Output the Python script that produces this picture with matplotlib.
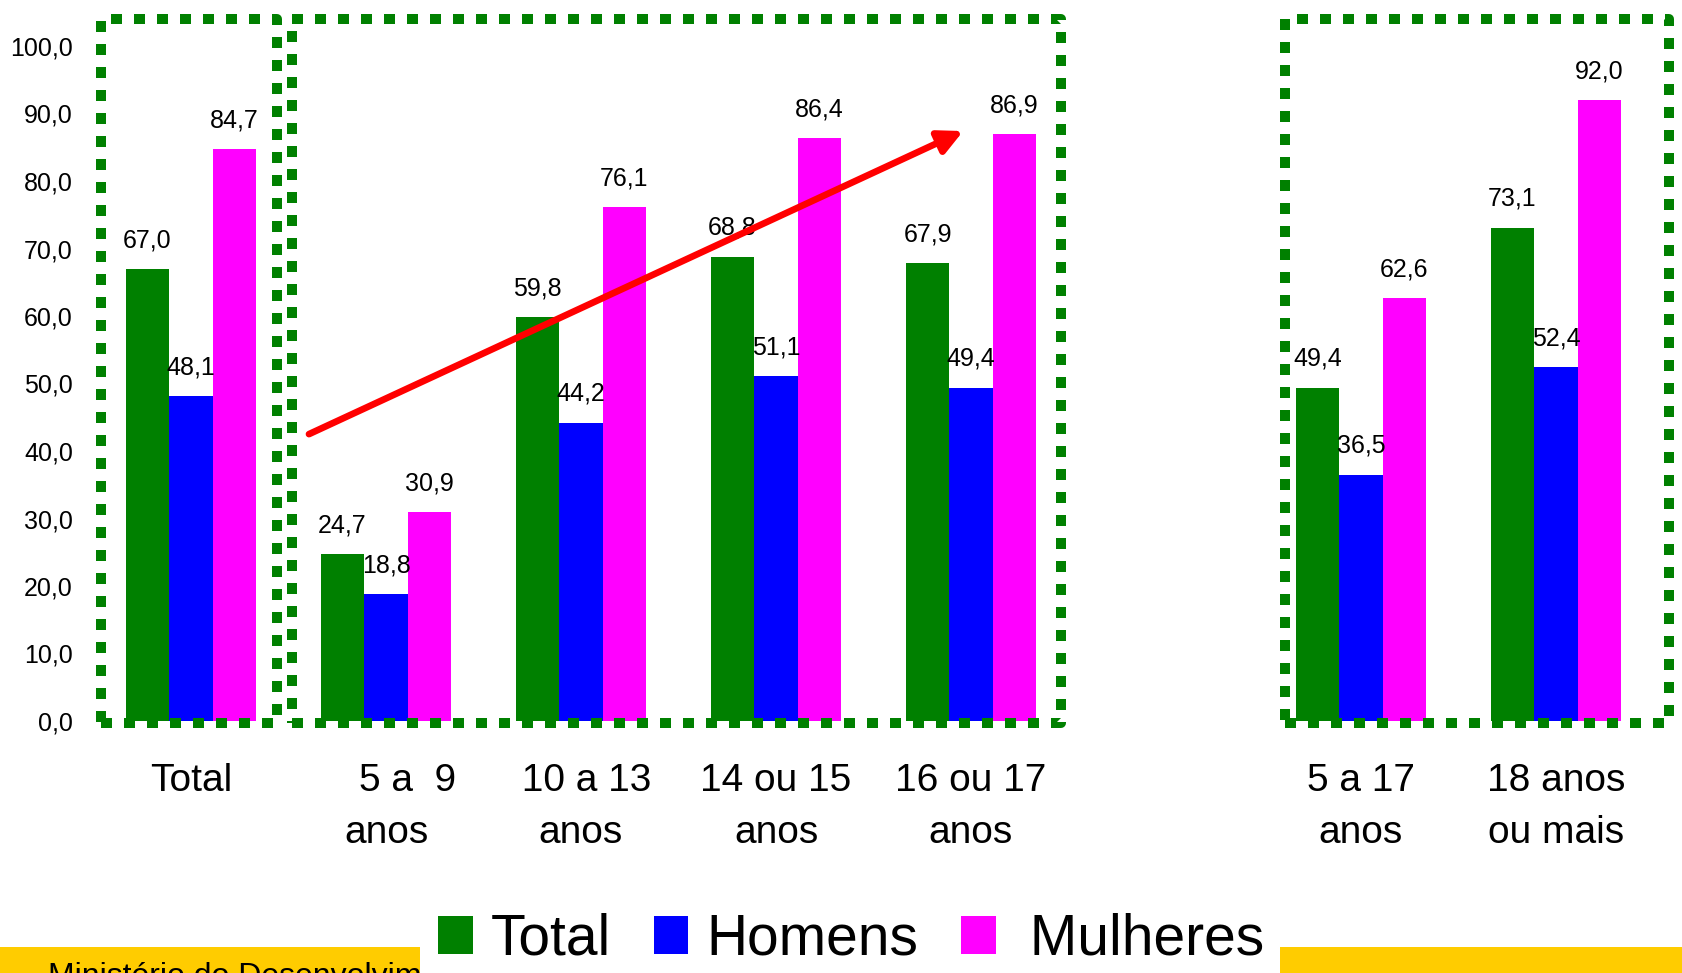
import numpy as np
import matplotlib
matplotlib.use("Agg")
import matplotlib.pyplot as plt
from matplotlib.patches import Rectangle

plt.rcParams['font.family'] = ['Liberation Sans', 'DejaVu Sans']

# ---------------- data ----------------
categories = ["Total", "    5 a  9\nanos", " 10 a 13\nanos", "14 ou 15\nanos",
              "16 ou 17\nanos", "5 a 17\nanos", "18 anos\nou mais"]
positions = [0, 1, 2, 3, 4, 6, 7]
series_names = ["Total", "Homens", " Mulheres"]
total = [67.0, 24.7, 59.8, 68.8, 67.9, 49.4, 73.1]
homens = [48.1, 18.8, 44.2, 51.1, 49.4, 36.5, 52.4]
mulheres = [84.7, 30.9, 76.1, 86.4, 86.9, 62.6, 92.0]
yticks = [0, 10, 20, 30, 40, 50, 60, 70, 80, 90, 100]
colors = ["#008000", "#0000FF", "#FF00FF"]

W, H = 1682, 973
fig = plt.figure(figsize=(W / 100, H / 100), dpi=100)
ax = fig.add_axes([93.5 / W, (H - 721) / H, 1560 / W, (721 - 46) / H])

x = np.array(positions, dtype=float)
bw = 0.223
fmt = lambda v: f"{v:.1f}".replace('.', ',')
handles = []
for i, (vals, col, name) in enumerate(zip([total, homens, mulheres], colors, series_names)):
    bars = ax.bar(x + (i - 1) * bw, vals, bw, color=col, label=name, zorder=2)
    ax.bar_label(bars, labels=[fmt(v) for v in vals], padding=12, fontsize=18)
    handles.append(bars)

ax.set_xlim(-0.5, 7.5)
ax.set_ylim(0, 100)
for s in ax.spines.values():
    s.set_visible(False)
ax.set_yticks(yticks)
ax.set_yticklabels([fmt(v) for v in yticks])
ax.tick_params(axis='y', length=0, pad=14.8, labelsize=18)
ax.set_xticks(positions)
ax.set_xticklabels(categories)
ax.tick_params(axis='x', length=0, pad=30, labelsize=28)
for lbl in ax.get_xticklabels():
    lbl.set_linespacing(1.6)

# dotted group frames
def frame(x0, x1, y0=-0.3, y1=104.0):
    ax.plot([x0, x1, x1, x0, x0], [y0, y0, y1, y1, y0], color="#008000", lw=7.2,
            ls=(0, (1.1, 1.2)), dash_capstyle='butt', clip_on=False, zorder=3)

frame(positions[0] - 0.46, positions[0] + 0.44)
frame(positions[1] - 0.48, positions[4] + 0.46)
frame(positions[5] - 0.39, positions[6] + 0.58)

# red trend arrow
ax.annotate('', xy=(3.96, 87.4), xytext=(0.605, 42.5),
            arrowprops=dict(arrowstyle='-|>', color='#FF0000', lw=4.8,
                            mutation_scale=36, shrinkA=0, shrinkB=0),
            zorder=4)

# legend
fig.legend(handles=handles, labels=series_names, loc='center',
           bbox_to_anchor=(0.506, 0.034), ncol=3, frameon=False, fontsize=41,
           handlelength=0.61, handleheight=0.67, handletextpad=0.32,
           columnspacing=0.75, borderpad=0, borderaxespad=0)

# footer band
left_band = Rectangle((0, 0), 420 / W, 26 / H, transform=fig.transFigure,
                      facecolor="#FFCC00", edgecolor='none', zorder=0)
right_band = Rectangle((1280 / W, 0), 1 - 1280 / W, 26 / H, transform=fig.transFigure,
                       facecolor="#FFCC00", edgecolor='none', zorder=0)
fig.add_artist(left_band)
fig.add_artist(right_band)
t = fig.text(48 / W, -12 / H, "Ministério do Desenvolvimento Social e Combate à Fome",
             fontsize=23, va='baseline', ha='left', zorder=1)
t.set_clip_path(left_band)

fig.savefig("out.png", dpi=100)
